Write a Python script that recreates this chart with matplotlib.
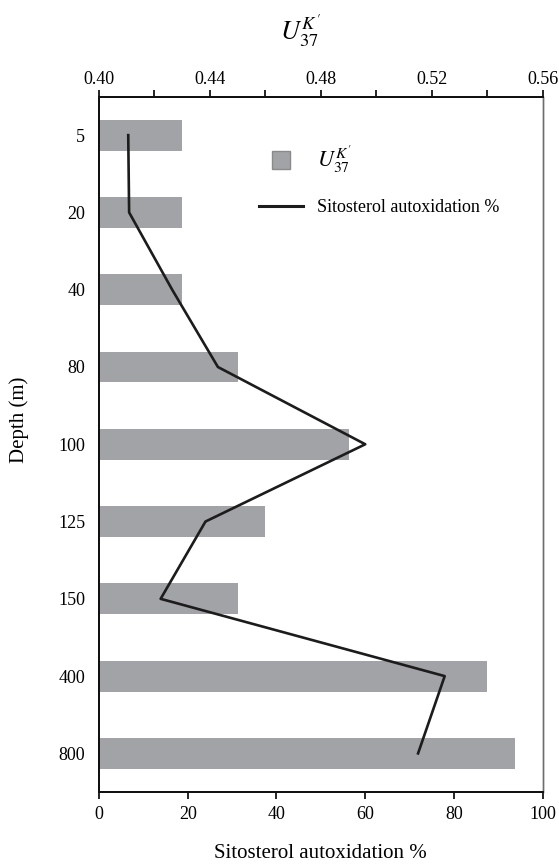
import matplotlib
matplotlib.use("Agg")
import matplotlib.pyplot as plt
from matplotlib.lines import Line2D

plt.rcParams["font.family"] = ["Liberation Serif", "DejaVu Serif"]
plt.rcParams["mathtext.fontset"] = "stix"

depths = ["5", "20", "40", "80", "100", "125", "150", "400", "800"]
uk37 = [0.430, 0.430, 0.430, 0.450, 0.490, 0.460, 0.450, 0.540, 0.550]
autox = [6.6, 6.8, 16.5, 26.8, 60.0, 24.0, 13.9, 77.9, 71.9]
uk_ticks = [0.40, 0.42, 0.44, 0.46, 0.48, 0.50, 0.52, 0.54, 0.56]
uk_ticklabels = ["0.40", "", "0.44", "", "0.48", "", "0.52", "", "0.56"]
pct_ticks = [0, 20, 40, 60, 80, 100]

bar_color = "#a2a3a6"
line_color = "#1c1c1c"
uk_label = r"$U^{K'}_{37}$"
pct_label = "Sitosterol autoxidation %"

fig = plt.figure(figsize=(5.59, 8.64), dpi=100)
ax = fig.add_axes([0.177, 0.0833, 0.794, 0.805])
ax2 = ax.twiny()
pos = list(range(len(depths)))

# U37K' bars on the top axis
base = uk_ticks[0]
ax.barh(pos, [v - base for v in uk37], left=base, height=0.4,
        color=bar_color, zorder=1)
ax.set_xlim(uk_ticks[0], uk_ticks[-1])
ax.set_ylim(len(depths) - 0.5, -0.5)
ax.set_yticks(pos)
ax.set_yticklabels(depths)
ax.tick_params(axis="y", length=0, pad=10, labelsize=13)
ax.xaxis.tick_top()
ax.xaxis.set_label_position("top")
ax.set_xticks(uk_ticks)
ax.set_xticklabels(uk_ticklabels)
ax.tick_params(axis="x", direction="out", length=5, width=1.2, labelsize=13, pad=1)
ax.set_ylabel("Depth (m)", fontsize=15, labelpad=10)
ax.yaxis.set_label_coords(-0.158, 0.535)

# Sitosterol autoxidation line on the bottom axis
ax2.plot(autox, pos, color=line_color, lw=1.9, zorder=3)
ax2.set_xlim(pct_ticks[0], pct_ticks[-1])
ax2.xaxis.tick_bottom()
ax2.xaxis.set_label_position("bottom")
ax2.set_xticks(pct_ticks)
ax2.tick_params(axis="x", direction="out", length=5, width=1.2, labelsize=13, pad=5)
ax2.set_xlabel(pct_label, fontsize=15, labelpad=15)

for a in (ax, ax2):
    for side in ("left", "top", "bottom"):
        a.spines[side].set_linewidth(1.4)
        a.spines[side].set_color("#111111")
    a.spines["right"].set_linewidth(1.0)
    a.spines["right"].set_color("#6e6e6e")

fig.text(0.537, 0.964, uk_label, fontsize=19, ha="center", va="center")

handles = [Line2D([0], [0], marker="s", linestyle="none", markersize=13,
                  markerfacecolor=bar_color, markeredgecolor="#8a8a8a"),
           Line2D([0], [0], color=line_color, lw=2.2)]
leg = ax2.legend(handles, [uk_label, pct_label], loc="upper left",
                 bbox_to_anchor=(0.325, 0.955), frameon=False, fontsize=13,
                 handlelength=2.4, labelspacing=1.35, handletextpad=0.8)
leg.get_texts()[0].set_fontsize(16)

fig.savefig("out.png", dpi=100)
